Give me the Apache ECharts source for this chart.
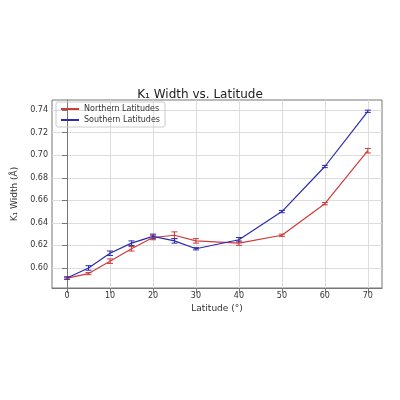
<!DOCTYPE html>
<html><head><meta charset="utf-8">
<script src="https://cdn.jsdelivr.net/npm/echarts@6/dist/echarts.min.js"></script>
<style>html,body{margin:0;background:#fff}#main{width:400px;height:400px}</style>
</head><body><div id="main"></div>
<script>
var lats = [0, 5, 10, 15, 20, 25, 30, 40, 50, 60, 70]
var north = [0.591, 0.595, 0.606, 0.617, 0.627, 0.629, 0.624, 0.622, 0.629, 0.657, 0.704]
var south = [0.591, 0.600, 0.613, 0.622, 0.628, 0.624, 0.617, 0.625, 0.650, 0.690, 0.739]
var northErr = [0.001, 0.001, 0.002, 0.002, 0.002, 0.003, 0.002, 0.002, 0.001, 0.001, 0.002]
var southErr = [0.001, 0.002, 0.002, 0.002, 0.002, 0.002, 0.001, 0.002, 0.001, 0.001, 0.001]
var xTicks = [0, 10, 20, 30, 40, 50, 60, 70]
var yTicks = [0.60, 0.62, 0.64, 0.66, 0.68, 0.70, 0.72, 0.74]
var myChart = echarts.init(document.getElementById('main'))

function pts(v) { return lats.map(function(x, i) { return [x, v[i]] }) }
function errData(v, e) { return lats.map(function(x, i) { return [x, v[i] - e[i], v[i] + e[i]] }) }
function errSeries(name, v, e, color) {
    return {
        name: name, type: 'custom', z: 3, data: errData(v, e),
        renderItem: function(params, api) {
            var lo = api.coord([api.value(0), api.value(1)])
            var hi = api.coord([api.value(0), api.value(2)])
            var st = { stroke: color, lineWidth: 1 }
            return { type: 'group', children: [
                { type: 'line', shape: { x1: lo[0], y1: lo[1], x2: hi[0], y2: hi[1] }, style: st },
                { type: 'line', shape: { x1: lo[0] - 3, y1: lo[1], x2: lo[0] + 3, y2: lo[1] }, style: st },
                { type: 'line', shape: { x1: hi[0] - 3, y1: hi[1], x2: hi[0] + 3, y2: hi[1] }, style: st }
            ] }
        }
    }
}

var font = 'DejaVu Sans'
option = {
    textStyle: { fontFamily: font },
    title: { text: 'K₁ Width vs. Latitude', left: 'center', top: 84,
        textStyle: { fontSize: 12, fontWeight: 'normal', color: '#222', fontFamily: font } },
    legend: {
        data: ['Northern Latitudes', 'Southern Latitudes'], orient: 'vertical',
        left: 56, top: 102, itemWidth: 18, itemHeight: 2, itemGap: 3,
        padding: [3, 5], borderColor: '#ccc', borderWidth: 1, borderRadius: 2,
        textStyle: { fontSize: 8, color: '#333' }, icon: 'rect'
    },
    grid: { left: 52, right: 18, top: 100, bottom: 112, show: true, borderColor: '#777', borderWidth: 1 },
    xAxis: {
        type: 'value', min: -3.5, max: 73.3,
        name: 'Latitude (°)', nameLocation: 'middle', nameGap: 16,
        nameTextStyle: { fontSize: 9, color: '#333' },
        axisLine: { onZero: false, lineStyle: { color: '#777' } },
        axisTick: { show: true, customValues: xTicks, lineStyle: { color: '#777' } },
        axisLabel: { fontSize: 8, color: '#333', margin: 4, customValues: xTicks },
        splitLine: { lineStyle: { color: '#ddd' } }
    },
    yAxis: {
        type: 'value', min: 0.5822, max: 0.749,
        name: 'K₁ Width (Å)', nameLocation: 'middle', nameGap: 30,
        nameTextStyle: { fontSize: 9, color: '#333' },
        axisLine: { show: true, lineStyle: { color: '#777' } },
        axisTick: { show: true, customValues: yTicks, lineStyle: { color: '#777' } },
        axisLabel: { fontSize: 8, color: '#333', margin: 4, customValues: yTicks,
            formatter: function(v) { return v.toFixed(2) } },
        splitLine: { lineStyle: { color: '#ddd' } }
    },
    series: [
        { name: 'Northern Latitudes', type: 'line', data: pts(north), color: '#d03a3a',
          symbol: 'none', lineStyle: { width: 1.2 } },
        { name: 'Southern Latitudes', type: 'line', data: pts(south), color: '#2b2bb0',
          symbol: 'none', lineStyle: { width: 1.2 } },
        errSeries('Northern Latitudes', north, northErr, '#d03a3a'),
        errSeries('Southern Latitudes', south, southErr, '#2b2bb0')
    ]
}
myChart.setOption(option)
</script></body></html>
